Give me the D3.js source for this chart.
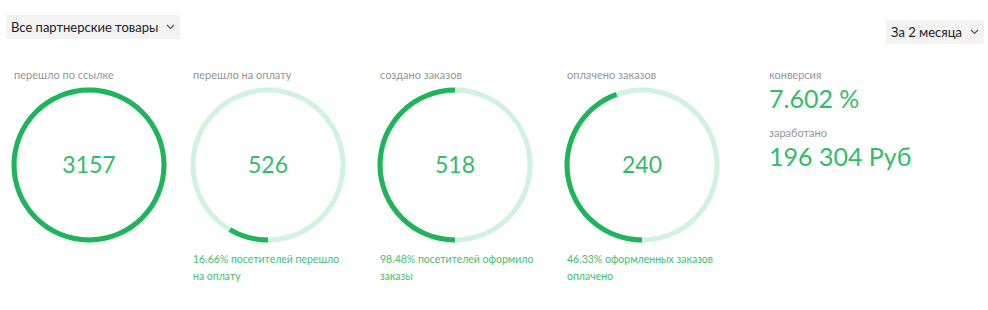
<!DOCTYPE html>
<html>
<head>
<meta charset="utf-8">
<title>Партнерская статистика</title>
<style>
body { margin: 0; background: #fff; }
svg { display: block; font-family: Lato, "Open Sans", sans-serif; }
</style>
<script src="https://d3js.org/d3.v7.min.js"></script>
</head>
<body>
<svg id="stats" width="988" height="310"></svg>
<script>
// values
const labels = ["перешло по ссылке", "перешло на оплату", "создано заказов", "оплачено заказов"];
const counts = [3157, 526, 518, 240];
// share of the ring painted dark, as drawn in the reference
const fills = [1, 0.085, 0.5, 0.445];
const captions = [
    [],
    ["16.66% посетителей перешло", "на оплату"],
    ["98.48% посетителей оформило", "заказы"],
    ["46.33% оформленных заказов", "оплачено"]
];
const summaryLabels = ["конверсия", "заработано"];
const summaryValues = ["7.602 %", "196 304 Руб"];
const filters = ["Все партнерские товары", "За 2 месяца"];

const svg = d3.select("#stats");

const R = 75;
const CY = 165;
const x = d3.scaleOrdinal().domain(labels).range([89, 268, 455, 642]);

const DARK = "#1db45a";
const TRACK = "#cff3de";
const NUM = "#33bb6c";

// dropdown filters
function dropdown(x0, y0, w, text) {
    const g = svg.append("g").attr("transform", `translate(${x0},${y0})`);
    g.append("rect").attr("width", w).attr("height", 24).attr("fill", "#f3f3f3");
    g.append("text").attr("x", 5).attr("y", 17)
        .style("font-size", "13px").style("fill", "#222").text(text);
    g.append("path")
        .attr("d", `M${w - 13},10 l3.5,3.5 l3.5,-3.5`)
        .attr("fill", "none").attr("stroke", "#555").attr("stroke-width", 1.2);
}
dropdown(6, 15, 174, filters[0]);
dropdown(886, 20, 98, filters[1]);

const arcTrack = d3.arc().innerRadius(R - 2.5).outerRadius(R + 2.5)
    .startAngle(0).endAngle(2 * Math.PI);
const arcFill = d3.arc().innerRadius(R - 2.5).outerRadius(R + 2.5)
    .startAngle(Math.PI).endAngle(d => Math.PI + d * 2 * Math.PI);

const cards = svg.selectAll("g.card")
    .data(labels.map((l, i) => ({ label: l, count: counts[i], fill: fills[i], cap: captions[i] })))
    .enter()
    .append("g")
    .attr("class", "card")
    .attr("transform", d => `translate(${x(d.label)},${CY})`);

cards.append("text")
    .attr("x", -R).attr("y", 79 - CY)
    .style("font-size", "11px").style("fill", "#959595")
    .text(d => d.label);

cards.append("path").attr("d", arcTrack()).attr("fill", TRACK);
cards.append("path").attr("d", d => arcFill(d.fill)).attr("fill", DARK);

cards.append("text")
    .attr("y", 8)
    .attr("text-anchor", "middle")
    .style("font-size", "23px").style("fill", NUM)
    .text(d => d.count);

cards.selectAll("text.cap")
    .data(d => d.cap)
    .enter()
    .append("text")
    .attr("class", "cap")
    .attr("x", -R)
    .attr("y", (d, i) => 263 - CY + i * 17)
    .style("font-size", "10.5px").style("fill", "#45bd70")
    .text(d => d);

// summary column
const sum = svg.selectAll("g.sum")
    .data(summaryLabels.map((l, i) => ({ label: l, value: summaryValues[i] })))
    .enter()
    .append("g")
    .attr("class", "sum")
    .attr("transform", (d, i) => `translate(769,${79 + i * 58})`);

sum.append("text")
    .style("font-size", "11px").style("fill", "#959595")
    .text(d => d.label);
sum.append("text")
    .attr("y", 29)
    .style("font-size", "25px").style("fill", NUM)
    .text(d => d.value);
</script>
</body>
</html>
